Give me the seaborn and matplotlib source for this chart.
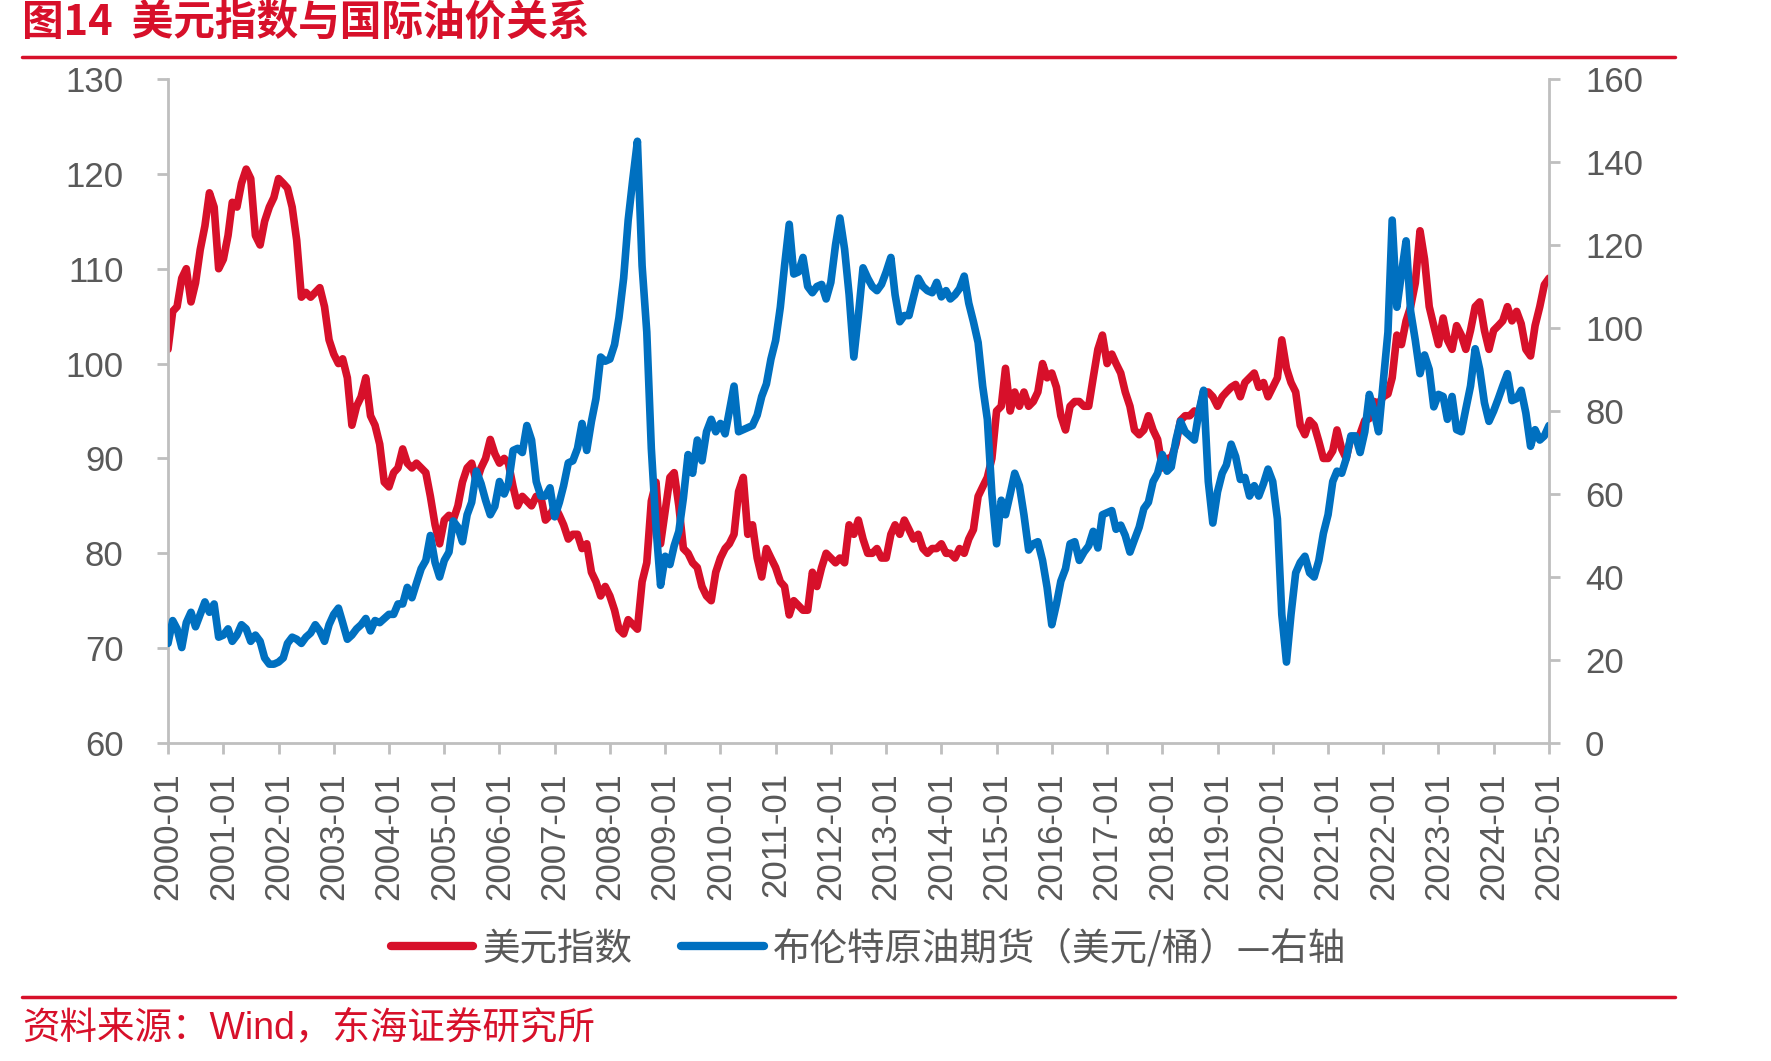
import numpy as np
import pandas as pd
import matplotlib
matplotlib.use("Agg")
import matplotlib.pyplot as plt
import seaborn as sns
from matplotlib.lines import Line2D

# ---------------- data (monthly, 2000-01 .. 2025-01) ----------------
start_month = "2000-01-01"
dxy = [
    101.5, 105.5, 106.0, 109.0, 110.0, 106.5, 108.5, 112.0, 114.5, 118.0, 116.5, 110.0,   # 2000
    111.0, 113.5, 117.0, 116.5, 119.0, 120.5, 119.5, 113.5, 112.5, 115.0, 116.5, 117.5,   # 2001
    119.5, 119.0, 118.5, 116.5, 113.0, 107.0, 107.5, 107.0, 107.5, 108.0, 106.0, 102.5,   # 2002
    101.0, 100.0, 100.5, 98.5, 93.5, 95.5, 96.5, 98.5, 94.5, 93.5, 91.5, 87.5,            # 2003
    87.0, 88.5, 89.0, 91.0, 89.5, 89.0, 89.5, 89.0, 88.5, 86.0, 83.0, 81.0,               # 2004
    83.5, 84.0, 83.5, 85.0, 87.5, 89.0, 89.5, 87.5, 89.0, 90.0, 92.0, 90.5,               # 2005
    89.5, 90.0, 89.5, 87.0, 85.0, 86.0, 85.5, 85.0, 86.0, 86.0, 83.5, 84.0,               # 2006
    85.0, 84.0, 83.0, 81.5, 82.0, 82.0, 80.5, 81.0, 78.0, 77.0, 75.5, 76.5,               # 2007
    75.5, 74.0, 72.0, 71.5, 73.0, 72.5, 72.0, 77.0, 79.0, 85.5, 87.5, 81.0,               # 2008
    84.5, 88.0, 88.5, 85.0, 80.5, 80.0, 79.0, 78.5, 76.5, 75.5, 75.0, 78.0,               # 2009
    79.5, 80.5, 81.0, 82.0, 86.5, 88.0, 82.0, 83.0, 79.5, 77.5, 80.5, 79.5,               # 2010
    78.5, 77.0, 76.5, 73.5, 75.0, 74.5, 74.0, 74.0, 78.0, 76.5, 78.5, 80.0,               # 2011
    79.5, 79.0, 79.5, 79.0, 83.0, 82.0, 83.5, 81.5, 80.0, 80.0, 80.5, 79.5,               # 2012
    79.5, 82.0, 83.0, 82.0, 83.5, 82.5, 81.5, 82.0, 80.5, 80.0, 80.5, 80.5,               # 2013
    81.0, 80.0, 80.0, 79.5, 80.5, 80.0, 81.5, 82.5, 86.0, 87.0, 88.0, 90.0,               # 2014
    95.0, 95.5, 99.5, 95.0, 97.0, 95.5, 97.0, 95.5, 96.0, 97.0, 100.0, 98.5,              # 2015
    99.0, 97.5, 94.5, 93.0, 95.5, 96.0, 96.0, 95.5, 95.5, 98.5, 101.5, 103.0,             # 2016
    100.0, 101.0, 100.0, 99.0, 97.0, 95.5, 93.0, 92.5, 93.0, 94.5, 93.0, 92.0,            # 2017
    89.0, 90.0, 90.0, 91.5, 94.0, 94.5, 94.5, 95.0, 94.8, 97.0, 97.0, 96.5,               # 2018
    95.5, 96.5, 97.0, 97.5, 97.8, 96.5, 98.0, 98.5, 99.0, 97.5, 98.0, 96.5,               # 2019
    97.5, 98.5, 102.5, 99.5, 98.0, 97.0, 93.5, 92.5, 94.0, 93.5, 91.8, 90.0,              # 2020
    90.0, 90.8, 93.0, 91.0, 90.0, 92.2, 92.0, 92.6, 94.0, 94.2, 96.0, 95.8,               # 2021
    96.5, 96.8, 98.5, 103.0, 102.0, 104.5, 106.0, 108.5, 114.0, 111.0, 106.0, 104.0,      # 2022
    102.0, 104.8, 102.5, 101.5, 104.0, 103.0, 101.5, 103.5, 106.0, 106.5, 103.5, 101.5,   # 2023
    103.5, 104.0, 104.5, 106.0, 104.5, 105.5, 104.2, 101.5, 100.8, 104.0, 106.0, 108.3,   # 2024
    109.0,                                                                                # 2025
]
brent = [
    24.0, 29.5, 27.5, 23.0, 29.0, 31.5, 28.0, 31.0, 34.0, 31.5, 33.5, 25.5,               # 2000
    26.0, 27.5, 24.5, 26.0, 28.5, 27.5, 24.5, 26.0, 24.5, 20.5, 19.0, 19.0,               # 2001
    19.5, 20.5, 24.0, 25.5, 25.0, 24.0, 25.5, 26.5, 28.5, 27.0, 24.5, 28.5,               # 2002
    31.0, 32.5, 29.0, 25.0, 26.0, 27.5, 28.5, 30.0, 27.0, 29.5, 29.0, 30.0,               # 2003
    31.0, 31.0, 33.5, 33.5, 37.5, 35.0, 38.5, 42.0, 44.0, 50.0, 43.5, 40.0,               # 2004
    44.0, 46.0, 53.5, 52.0, 48.5, 55.0, 58.0, 65.5, 62.5, 58.5, 55.0, 57.0,               # 2005
    63.0, 60.0, 62.5, 70.5, 71.0, 70.0, 76.5, 73.0, 63.0, 59.5, 59.5, 61.5,               # 2006
    54.5, 58.0, 62.0, 67.5, 68.0, 71.0, 77.0, 70.5, 77.5, 83.0, 93.0, 92.0,               # 2007
    92.5, 96.0, 102.5, 112.0, 126.0, 136.0, 145.0, 115.0, 99.0, 71.0, 52.0, 38.0,         # 2008
    45.0, 43.0, 47.5, 51.0, 59.0, 69.5, 65.0, 73.0, 68.0, 75.0, 78.0, 75.0,               # 2009
    77.0, 74.5, 80.0, 86.0, 75.0, 75.5, 76.0, 76.5, 79.0, 83.5, 86.5, 92.5,               # 2010
    97.0, 105.0, 115.0, 125.0, 113.0, 113.5, 117.0, 110.0, 108.5, 110.0, 110.5, 107.0,    # 2011
    111.0, 120.0, 126.5, 119.0, 108.0, 93.0, 103.0, 114.5, 112.0, 110.0, 109.0, 110.5,    # 2012
    113.5, 117.0, 108.0, 101.5, 103.0, 103.0, 107.5, 112.0, 110.0, 109.0, 108.5, 111.0,   # 2013
    107.5, 109.0, 107.0, 108.0, 109.5, 112.5, 106.0, 101.5, 96.5, 86.0, 78.0, 60.0,       # 2014
    48.0, 58.5, 55.0, 60.0, 65.0, 62.0, 55.0, 46.5, 48.0, 48.5, 44.0, 37.5,               # 2015
    28.5, 33.5, 39.0, 42.0, 48.0, 48.5, 44.0, 46.0, 47.5, 51.0, 47.0, 55.0,               # 2016
    55.5, 56.0, 51.5, 52.5, 50.0, 46.0, 49.0, 52.0, 56.5, 58.0, 63.0, 65.0,               # 2017
    69.5, 65.5, 66.5, 73.0, 77.5, 75.0, 74.0, 73.0, 80.0, 85.0, 63.0, 53.0,               # 2018
    60.5, 65.0, 67.0, 72.0, 69.0, 63.5, 64.0, 59.5, 62.0, 59.5, 62.5, 66.0,               # 2019
    63.0, 54.0, 31.0, 19.5, 31.0, 41.0, 43.5, 45.0, 41.0, 40.0, 44.0, 50.5,               # 2020
    55.0, 63.0, 65.5, 65.0, 68.5, 74.0, 74.0, 70.0, 75.0, 84.0, 80.0, 75.0,               # 2021
    87.0, 99.0, 126.0, 105.0, 113.0, 121.0, 104.0, 97.0, 89.0, 93.5, 90.0, 81.0,          # 2022
    84.0, 83.5, 78.0, 83.5, 75.5, 75.0, 80.5, 86.0, 95.0, 90.0, 82.0, 77.5,               # 2023
    80.0, 83.0, 86.0, 89.0, 82.5, 83.0, 85.0, 79.5, 71.5, 75.5, 73.0, 74.0,               # 2024
    76.5,                                                                                 # 2025
]
year_ticks = [f"{y}-01" for y in range(2000, 2026)]
left_ticks = [60, 70, 80, 90, 100, 110, 120, 130]
right_ticks = [0, 20, 40, 60, 80, 100, 120, 140, 160]
series_names = ["美元指数", "布伦特原油期货（美元/桶）—右轴"]
title_text = "图14  美元指数与国际油价关系"
source_text = "资料来源：Wind，东海证券研究所"

# ---------------- style ----------------
RED = "#D7102A"
BLUE = "#0070C0"
GRAY_TXT = "#595959"
GRAY_AX = "#BFBFBF"

sns.set_theme(style="white")
plt.rcParams["font.family"] = ["Liberation Sans", "Noto Sans CJK SC", "DejaVu Sans"]
plt.rcParams["axes.unicode_minus"] = False

W, H = 1771, 1061
fig = plt.figure(figsize=(W / 100, H / 100), dpi=100)
fig.patch.set_facecolor("white")

x0, x1 = 168, 1549
y0, y1 = 79, 743
ax = fig.add_axes([x0 / W, 1 - y1 / H, (x1 - x0) / W, (y1 - y0) / H])

dates = pd.date_range(start_month, periods=len(dxy), freq="MS")
df = pd.DataFrame({"date": dates, "dxy": dxy, "brent": brent})

sns.lineplot(data=df, x="date", y="dxy", ax=ax, color=RED, linewidth=5.5,
             legend=False, solid_joinstyle="round")
ax2 = ax.twinx()
sns.lineplot(data=df, x="date", y="brent", ax=ax2, color=BLUE, linewidth=5.5,
             legend=False, solid_joinstyle="round")

tick_dates = pd.to_datetime([t + "-01" for t in year_ticks])
ax.set_xlim(tick_dates[0], tick_dates[-1])
ax.set_xticks(tick_dates)
ax.set_xticklabels(year_ticks, rotation=90, fontsize=25, color=GRAY_TXT)

ax.set_ylim(60, 130)
ax.set_yticks(left_ticks)
ax.set_yticklabels([str(v) for v in left_ticks], fontsize=25, color=GRAY_TXT)
ax2.set_ylim(0, 160)
ax2.set_yticks(right_ticks)
ax2.set_yticklabels([str(v) for v in right_ticks], fontsize=25, color=GRAY_TXT)

for a in (ax, ax2):
    a.set_xlabel("")
    a.set_ylabel("")
    a.grid(False)
    a.spines["top"].set_visible(False)
    for s in ("left", "right", "bottom"):
        a.spines[s].set_color(GRAY_AX)
        a.spines[s].set_linewidth(2.0)
ax.spines["right"].set_visible(False)
ax2.spines["left"].set_visible(False)
ax2.spines["bottom"].set_visible(False)

ax.tick_params(axis="x", direction="out", length=8, width=2.0, color=GRAY_AX, pad=13, bottom=True)
ax.tick_params(axis="y", direction="out", length=8, width=2.0, color=GRAY_AX, pad=24, left=True)
ax2.tick_params(axis="y", direction="out", length=8, width=2.0, color=GRAY_AX, pad=18, right=True)

# ---------------- legend ----------------
handles = [Line2D([0], [0], color=RED, lw=6, solid_capstyle="round"),
           Line2D([0], [0], color=BLUE, lw=6, solid_capstyle="round")]
leg = fig.legend(handles, series_names, loc="center", bbox_to_anchor=(0.4905, 1 - 949 / H),
                 ncol=2, frameon=False, handlelength=2.2,
                 handletextpad=0.25, columnspacing=1.3,
                 prop={"family": ["Noto Sans CJK SC", "Liberation Sans"], "size": 27})
for t in leg.get_texts():
    t.set_color(GRAY_TXT)

# ---------------- title, rules, source ----------------
fig.text(22 / W, 1 - 24 / H, title_text, color=RED, fontsize=30, fontweight="bold",
         va="center", ha="left", family=["Noto Sans CJK SC", "Liberation Sans"])
fig.add_artist(Line2D([22 / W, 1675 / W], [1 - 57 / H, 1 - 57 / H], color=RED, lw=2.5,
                      transform=fig.transFigure))
fig.add_artist(Line2D([22 / W, 1675 / W], [1 - 997 / H, 1 - 997 / H], color=RED, lw=2.5,
                      transform=fig.transFigure))
fig.text(22 / W, 1 - 1028 / H, source_text, color=RED, fontsize=27, va="center", ha="left",
         family=["Liberation Sans", "Noto Sans CJK SC"])

fig.savefig("out.png", dpi=100, facecolor="white")
